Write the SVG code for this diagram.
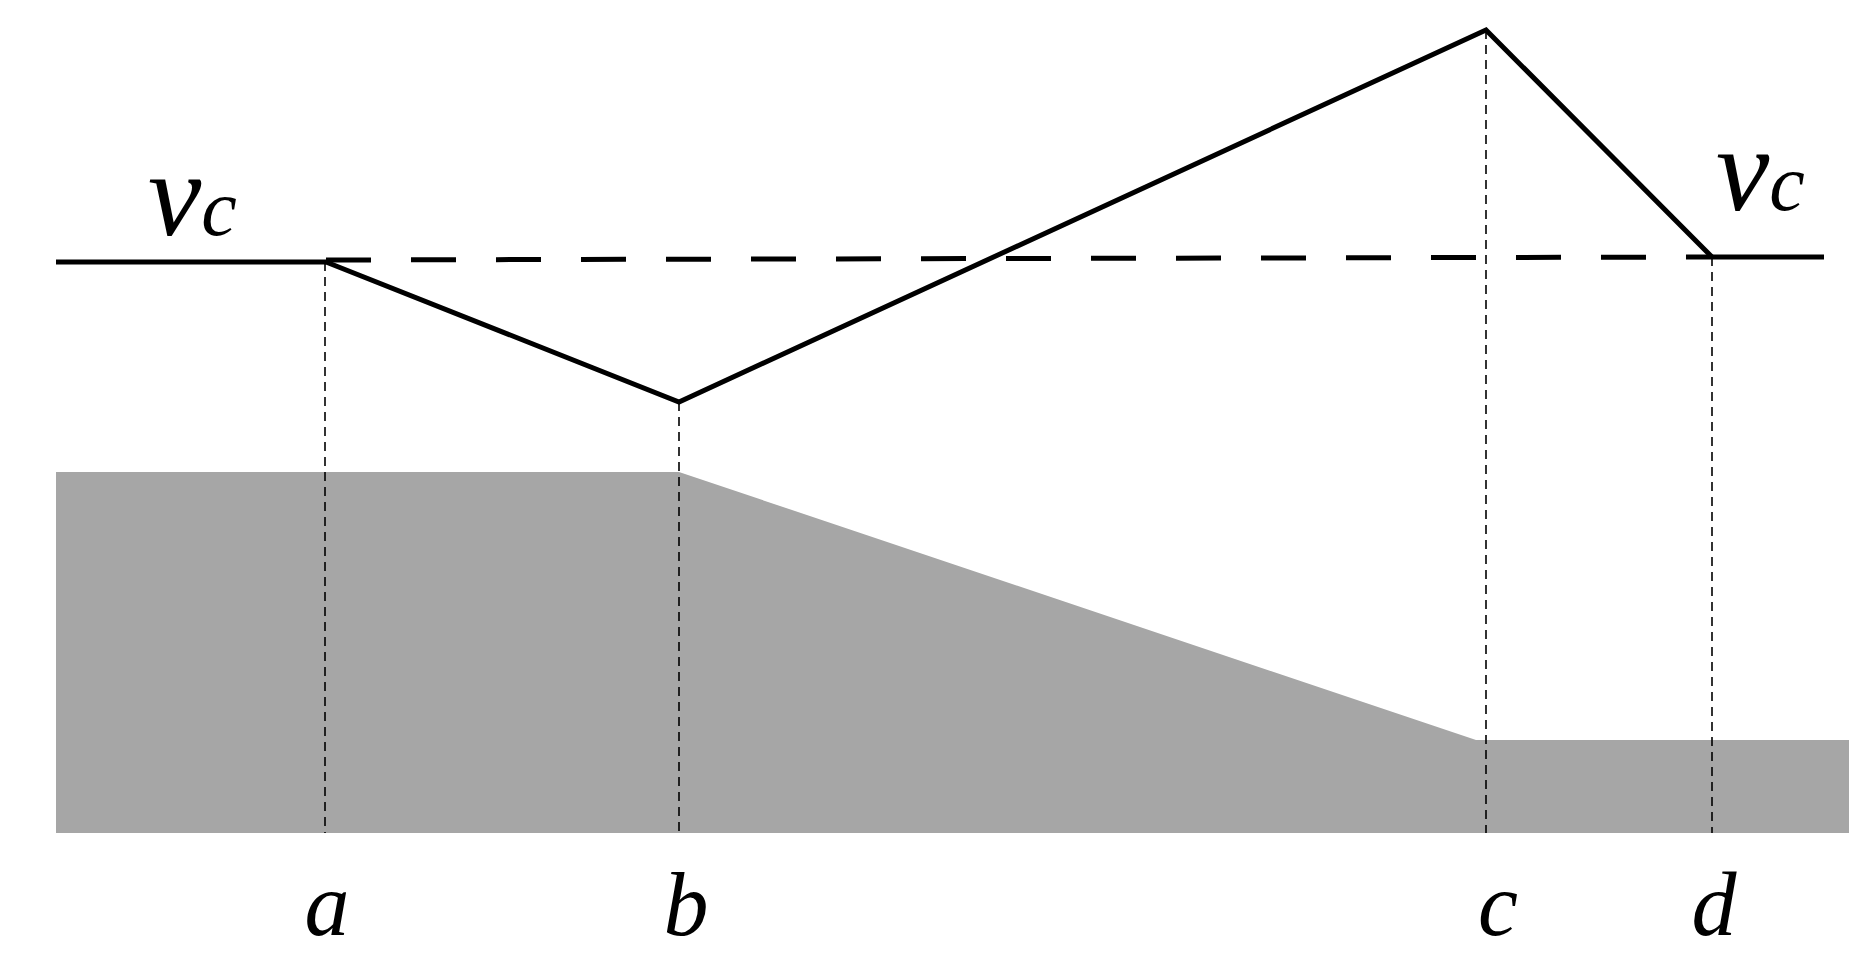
<svg xmlns="http://www.w3.org/2000/svg" width="1875" height="972" viewBox="0 0 1875 972">
<style>
.t{font-family:"Liberation Serif",serif;font-style:italic;fill:#000}
.thin{stroke:#000;stroke-width:1.6;stroke-dasharray:9 6;fill:none}
.thick{stroke:#000;stroke-width:5;fill:none}
</style>
<rect width="1875" height="972" fill="#fff"/>
<g id="ground"><polygon points="56,472 679,472 1476,740 1849,740 1849,833 56,833" fill="#a6a6a6"/></g>
<g id="connectors">
<line class="thin" x1="325" y1="262" x2="325" y2="833"/>
<line class="thin" x1="679" y1="402" x2="679" y2="833"/>
<line class="thin" x1="1486" y1="30" x2="1486" y2="833"/>
<line class="thin" x1="1712" y1="257" x2="1712" y2="833"/>
<line class="thick" x1="56" y1="262" x2="326" y2="262"/>
<line class="thick" x1="326" y1="260" x2="1712" y2="257" stroke-dasharray="45 40"/>
<line class="thick" x1="1712" y1="257" x2="1824" y2="257"/>
<polyline class="thick" points="326,262 679,402 1486,30 1712,257"/>
</g>
<g id="labels">
<text class="t" x="148" y="235" font-size="120">v<tspan font-size="80">c</tspan></text>
<text class="t" x="1716" y="210" font-size="120">v<tspan font-size="80">c</tspan></text>
<text class="t" x="327" y="935" font-size="90" text-anchor="middle">a</text>
<text class="t" x="686" y="935" font-size="90" text-anchor="middle">b</text>
<text class="t" x="1498" y="935" font-size="90" text-anchor="middle">c</text>
<text class="t" x="1714" y="935" font-size="90" text-anchor="middle">d</text>
</g>
</svg>
